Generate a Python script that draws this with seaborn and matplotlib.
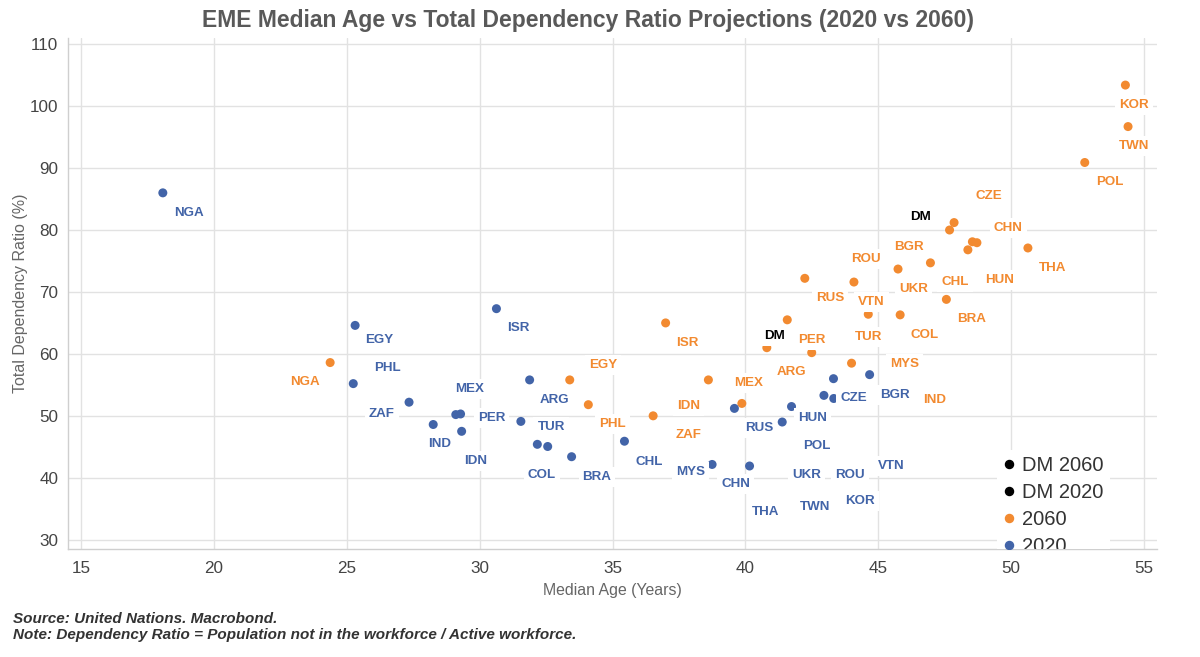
import matplotlib
matplotlib.use("Agg")
import matplotlib.pyplot as plt
from matplotlib.lines import Line2D
import seaborn as sns
import pandas as pd

# ---------------- data ----------------
countries_2020 = ['NGA', 'EGY', 'PHL', 'ZAF', 'IND', 'MEX', 'PER', 'IDN', 'ISR', 'ARG',
                  'TUR', 'COL', 'VTN', 'BRA', 'CHL', 'CHN', 'THA', 'RUS', 'UKR', 'POL',
                  'HUN', 'ROU', 'CZE', 'BGR', 'MYS', 'TWN', 'KOR']
age_2020 = [18.07, 25.31, 25.24, 27.34, 28.25, 29.10, 29.28, 29.32, 30.63, 31.88,
            31.55, 32.17, 32.56, 33.46, 35.45, 38.75, 40.16, 39.59, 41.39, 41.74,
            42.96, 43.33, 43.32, 44.68, 30.00, 42.31, 43.93]
dep_2020 = [86.0, 64.6, 55.2, 52.2, 48.6, 50.2, 50.3, 47.5, 67.3, 55.8,
            49.1, 45.4, 45.05, 43.4, 45.9, 42.15, 41.9, 51.2, 49.0, 51.5,
            53.3, 52.8, 56.0, 56.65, 43.3, 40.7, 40.7]

countries_2060 = ['KOR', 'TWN', 'POL', 'CZE', 'ROU', 'CHN', 'HUN', 'CHL', 'THA', 'BGR',
                  'UKR', 'VTN', 'RUS', 'BRA', 'COL', 'TUR', 'PER', 'IND', 'ARG', 'MYS',
                  'ISR', 'EGY', 'PHL', 'ZAF', 'IDN', 'MEX', 'NGA']
age_2060 = [54.31, 54.41, 52.78, 47.86, 47.69, 48.55, 48.72, 48.38, 50.64, 46.97,
            45.75, 44.09, 42.24, 47.57, 45.83, 44.63, 41.58, 40.81, 42.50, 44.00,
            37.00, 33.39, 34.09, 36.53, 38.61, 39.87, 24.37]
dep_2060 = [103.4, 96.7, 90.9, 81.2, 80.0, 78.1, 77.95, 76.8, 77.1, 74.7,
            73.7, 71.6, 72.2, 68.8, 66.3, 66.4, 65.5, 61.0, 60.2, 58.5,
            65.0, 55.8, 51.8, 50.0, 55.8, 52.0, 58.6]

dm_series = ['DM 2060', 'DM 2020']
dm_age = [46.6, 41.1]
dm_dep = [82.4, 63.1]

legend_order = ['DM 2060', 'DM 2020', '2060', '2020']
x_ticks = [15, 20, 25, 30, 35, 40, 45, 50, 55]
y_ticks = [30, 40, 50, 60, 70, 80, 90, 100, 110]

# ---------------- styling ----------------
BLUE = '#4264a8'
ORANGE = '#f28a30'
BLACK = '#000000'
palette = {'DM 2060': BLACK, 'DM 2020': BLACK, '2060': ORANGE, '2020': BLUE}

# label offsets from their point, in pixels (right, down)
off_2020 = {'NGA': (25.7, 18.7), 'EGY': (24.3, 13), 'PHL': (34.4, -17), 'ZAF': (-27.3, 10),
            'IND': (6, 18.4), 'MEX': (13.6, -26.7), 'PER': (31, 2.5), 'IDN': (14, 28),
            'ISR': (22, 18), 'ARG': (25, 18.3), 'TUR': (30.2, 4.5), 'COL': (4.7, 28.7),
            'VTN': (343.4, 18.4), 'BRA': (25.4, 18.4), 'CHL': (24.3, 19), 'CHN': (23.5, 18.2),
            'THA': (15.7, 44.7), 'RUS': (24.5, 18.4), 'UKR': (24.3, 51.6), 'POL': (25, 38.3),
            'HUN': (-11.6, 21.2), 'ROU': (16, 74.8), 'CZE': (19.9, 18.3), 'BGR': (25.7, 18.8),
            'MYS': (210.5, 13), 'TWN': (8.3, 31.7), 'KOR': (10.3, 26)}
off_2060 = {'KOR': (8.4, 18.3), 'TWN': (5.7, 18.3), 'POL': (24.6, 18.3), 'CZE': (35, -28.4),
            'ROU': (-83.7, 27.7), 'CHN': (36, -15.7), 'HUN': (23, 35.6), 'CHL': (-13, 31),
            'THA': (24.7, 18.3), 'BGR': (-21.4, -17), 'UKR': (15.4, 18.3), 'VTN': (17.7, 18),
            'RUS': (25, 18.2), 'BRA': (25, 18), 'COL': (24.7, 18.3), 'TUR': (0, 21.7),
            'PER': (24.3, 19), 'IND': (168, 50.5), 'ARG': (-20, 18.3), 'MYS': (53.1, -0.6),
            'ISR': (22, 18.3), 'EGY': (33, -16.7), 'PHL': (24.3, 18), 'ZAF': (35.6, 18),
            'IDN': (-20, 25), 'MEX': (6.4, -21.6), 'NGA': (-25, 18.3)}

sns.set_style('white')
plt.rcParams['font.family'] = ['Liberation Sans', 'DejaVu Sans']

df = pd.concat([
    pd.DataFrame({'label': ['DM', 'DM'], 'series': dm_series, 'age': dm_age, 'dep': dm_dep}),
    pd.DataFrame({'label': countries_2060, 'series': '2060', 'age': age_2060, 'dep': dep_2060}),
    pd.DataFrame({'label': countries_2020, 'series': '2020', 'age': age_2020, 'dep': dep_2020}),
], ignore_index=True)

fig = plt.figure(figsize=(12, 6.57), dpi=100)
ax = fig.add_axes([68 / 1200, 1 - 549 / 657, (1157 - 68) / 1200, (549 - 38) / 657])

sns.scatterplot(data=df, x='age', y='dep', hue='series', hue_order=legend_order,
                palette=palette, s=42, linewidth=0, legend=False, ax=ax, zorder=2)

for _, r in df.iterrows():
    if r['label'] == 'DM':
        dx, dy, col = 0, 0, BLACK
    elif r['series'] == '2060':
        dx, dy = off_2060[r['label']]
        col = ORANGE
    else:
        dx, dy = off_2020[r['label']]
        col = BLUE
    ax.annotate(r['label'], xy=(r['age'], r['dep']), xytext=(dx, -dy - 1.5),
                textcoords='offset pixels', ha='center', va='center',
                fontsize=9.6, fontweight='bold', color=col, zorder=4,
                bbox=dict(boxstyle='square,pad=0.3', fc='white', ec='none'))

ax.set_xlim(14.5, 55.5)
ax.set_ylim(28.5, 111)
ax.set_xticks(x_ticks)
ax.set_yticks(y_ticks)
ax.grid(True, color='#e2e2e2', linewidth=1, zorder=0)
ax.set_axisbelow(True)
for s in ['top', 'right']:
    ax.spines[s].set_visible(False)
for s in ['left', 'bottom']:
    ax.spines[s].set_color('#cfcfcf')
    ax.spines[s].set_linewidth(1)
ax.tick_params(axis='both', colors='#444444', labelsize=12.3, length=4, width=1)
ax.tick_params(axis='both', color='#bbbbbb')
ax.tick_params(axis='x', pad=4.5)
ax.tick_params(axis='y', pad=3)

ax.set_xlabel('Median Age (Years)', fontsize=11.4, color='#666666')
ax.set_ylabel('Total Dependency Ratio (%)', fontsize=11.5, color='#666666')
ax.xaxis.set_label_coords(0.5, -0.066)
ax.yaxis.set_label_coords(-0.0367, 0.5)

handles = [Line2D([], [], marker='o', ls='', color=palette[k], markersize=5.8) for k in legend_order]
leg = ax.legend(handles, legend_order, loc='upper left', bbox_to_anchor=(0.853, 0.1947),
                frameon=True, fontsize=14.5, labelspacing=0.4, handlelength=0.6,
                handletextpad=0.35, borderpad=0.3, borderaxespad=0)
leg.get_frame().set_facecolor('white')
leg.get_frame().set_edgecolor('none')
leg.get_frame().set_alpha(1)
for t in leg.get_texts():
    t.set_color('#333333')
for a in leg.findobj():
    if a is not leg:
        a.set_clip_box(ax.bbox)
        a.set_clip_on(True)

fig.text(588 / 1200, 1 - 20 / 657,
         'EME Median Age vs Total Dependency Ratio Projections (2020 vs 2060)',
         ha='center', va='center', fontsize=16.5, fontweight='bold', color='#595959')
fig.text(13 / 1200, 1 - 619 / 657, 'Source: United Nations. Macrobond.',
         ha='left', va='center', fontsize=11, fontweight='bold', fontstyle='italic', color='#333333')
fig.text(13 / 1200, 1 - 635 / 657,
         'Note: Dependency Ratio = Population not in the workforce / Active workforce.',
         ha='left', va='center', fontsize=11, fontweight='bold', fontstyle='italic', color='#333333')

fig.savefig('out.png', dpi=100)
